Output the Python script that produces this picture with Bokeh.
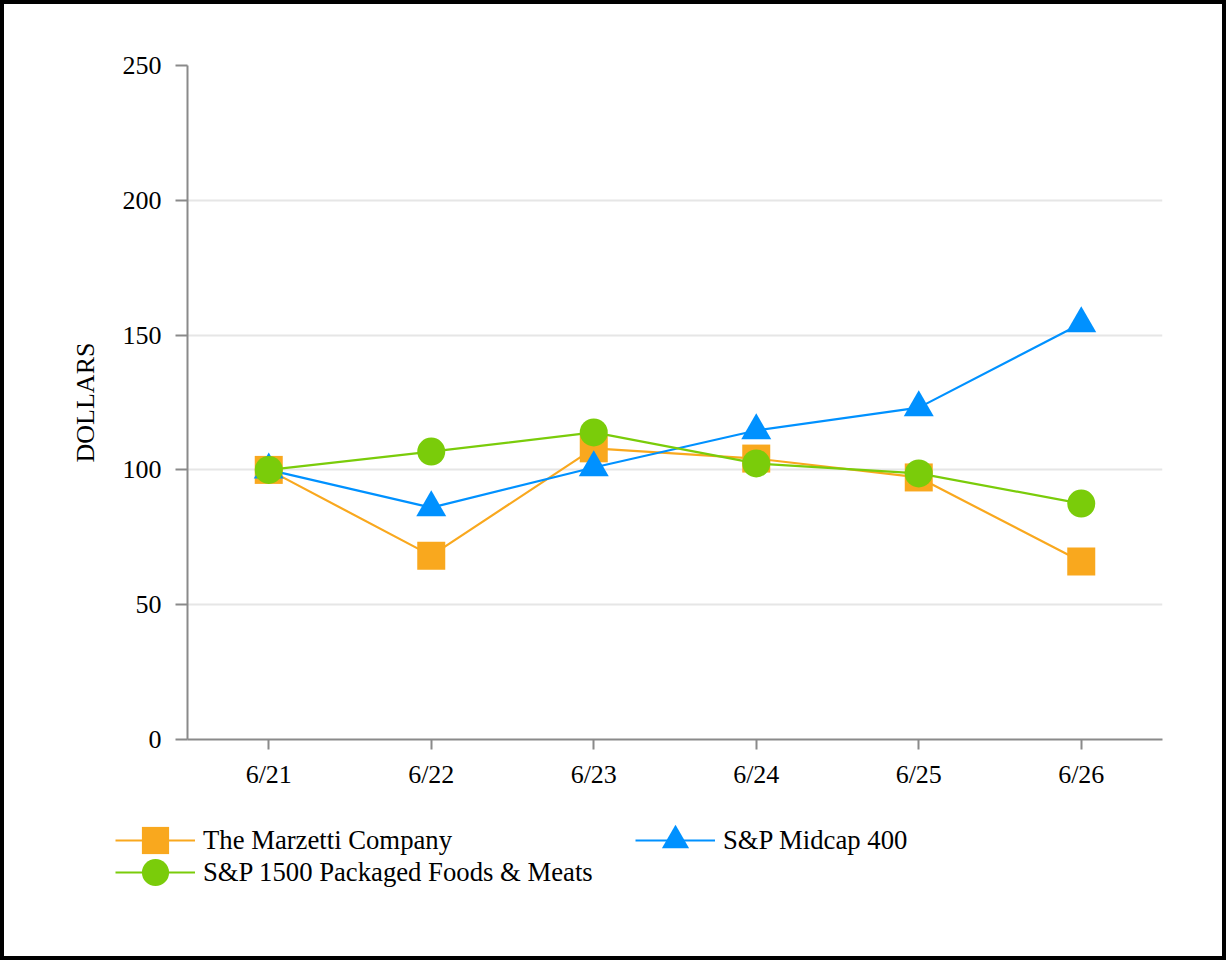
from bokeh.plotting import figure
from bokeh.models import Range1d, FixedTicker, Legend, LegendItem
from bokeh.layouts import column
from bokeh.embed import file_html
from bokeh.resources import INLINE

# ---- data ----
periods = ["6/21", "6/22", "6/23", "6/24", "6/25", "6/26"]
marzetti = [100.0, 68.2, 108.0, 104.2, 97.2, 66.0]
midcap = [100.0, 86.0, 100.9, 114.6, 123.1, 154.3]
packaged = [100.0, 106.8, 113.9, 102.4, 98.7, 87.5]
y_ticks = [0, 50, 100, 150, 200, 250]

series_names = ["The Marzetti Company", "S&P Midcap 400", "S&P 1500 Packaged Foods & Meats"]
colors = ["#F9A81E", "#0091FF", "#7ACC0A"]
markers = ["square", "triangle", "circle"]
sizes = [28, 30, 28]
all_series = [marzetti, midcap, packaged]

FONT = "Liberation Serif"
FS = "26px"
FS_LEG = "26.7px"

x = list(range(len(periods)))

# ---- main chart ----
p1 = figure(width=1218, height=796, output_backend="svg", toolbar_location=None,
            x_range=Range1d(-0.5, len(periods) - 0.5), y_range=Range1d(0, 250),
            min_border_left=183, min_border_right=60, min_border_top=61, min_border_bottom=61)
p1.frame_align = False
p1.outline_line_color = None
p1.background_fill_color = "white"
p1.border_fill_color = "white"

p1.xaxis.ticker = FixedTicker(ticks=x)
p1.xaxis.major_label_overrides = {i: lab for i, lab in enumerate(periods)}
p1.yaxis.ticker = FixedTicker(ticks=y_ticks)
for ax in (p1.xaxis[0], p1.yaxis[0]):
    ax.axis_line_color = "#8a8a8a"
    ax.axis_line_width = 2
    ax.major_tick_line_color = "#8a8a8a"
    ax.major_tick_line_width = 2
    ax.minor_tick_line_color = None
    ax.major_tick_in = 0
    ax.major_label_text_font = FONT
    ax.major_label_text_font_size = FS
    ax.major_label_text_color = "black"
p1.xaxis.major_tick_out = 10
p1.xaxis.major_label_standoff = 10
p1.yaxis.major_tick_out = 12
p1.yaxis.major_label_standoff = 14
p1.yaxis.axis_label = "DOLLARS"
p1.yaxis.axis_label_text_font = FONT
p1.yaxis.axis_label_text_font_size = FS
p1.yaxis.axis_label_text_font_style = "normal"
p1.yaxis.axis_label_text_color = "black"
p1.yaxis.axis_label_standoff = 20

p1.xgrid.grid_line_color = None
p1.ygrid.grid_line_color = "#e6e6e6"
p1.ygrid.grid_line_width = 2

for vals, col, mk, sz in zip(all_series, colors, markers, sizes):
    p1.line(x, vals, line_color=col, line_width=2.2)
    p1.scatter(x, vals, marker=mk, size=sz, fill_color=col, line_color=col, line_width=0)

# ---- legend strip ----
p2 = figure(width=1218, height=156, output_backend="svg", toolbar_location=None,
            x_range=Range1d(100, 101), y_range=Range1d(100, 101),
            x_axis_location=None, y_axis_location=None,
            min_border_left=0, min_border_right=0, min_border_top=0, min_border_bottom=0)
p2.frame_align = False
p2.outline_line_color = None
p2.grid.visible = False
p2.background_fill_color = "white"
p2.border_fill_color = "white"

legend_locs = [(111, 82), (631, 82), (111, 50)]
for name, vals, col, mk, loc in zip(series_names, all_series, colors, markers, legend_locs):
    ln = p2.line(x, vals, line_color=col, line_width=2.2)
    sc = p2.scatter(x, vals, marker=mk, size=28, fill_color=col, line_color=col, line_width=0)
    lg = Legend(items=[LegendItem(label=name, renderers=[ln, sc])], location=loc,
                glyph_width=80, glyph_height=68, label_height=30,
                label_standoff=8, spacing=0, padding=0, margin=0,
                label_text_font=FONT, label_text_font_size=FS_LEG, label_text_color="black",
                border_line_color=None, background_fill_alpha=0)
    p2.add_layout(lg, "center")

p = column(p1, p2, spacing=0)
p.styles = {"border": "4px solid black", "background-color": "white"}

open("out.html", "w").write(file_html(p, INLINE))
